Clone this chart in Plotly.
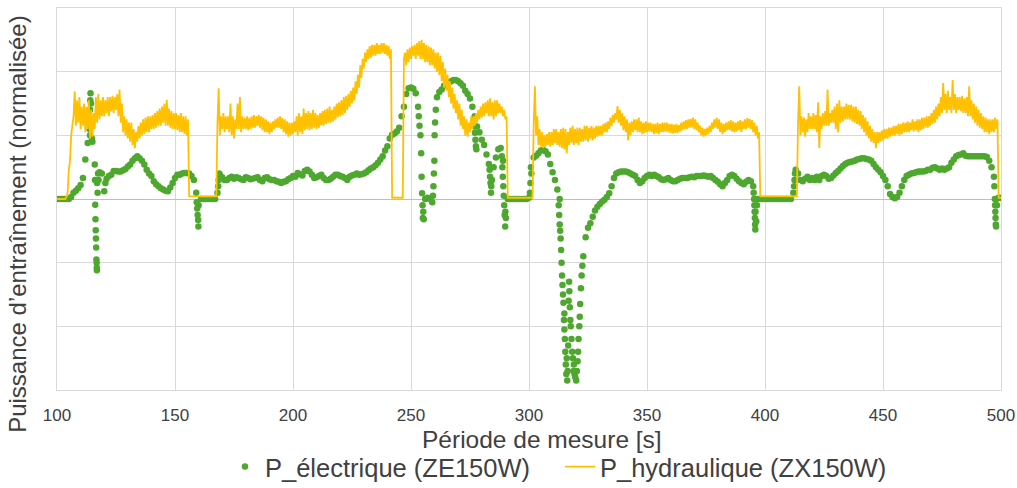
import plotly.graph_objects as go

# time axis (s), 1 s step
t_sec = list(range(100, 501))

# hydraulic power (normalised): lower edge of the noisy band, read at t = 100..500
hyd_low = [
    0, 0, 0, 0, 0.03, 0.45, 1.0, 1.3, 1.15, 1.2,
    1.1, 1.15, 1.05, 1.1, 0.95, 0.98, 1.1, 1.2, 1.25, 1.3,
    1.3, 1.35, 1.3, 1.38, 1.35, 1.4, 1.3, 1.2, 1.05, 1.0,
    0.95, 0.9, 0.85, 0.8, 0.9, 0.95, 1.0, 1.02, 1.05, 1.05,
    1.1, 1.1, 1.12, 1.15, 1.15, 1.2, 1.15, 1.15, 1.12, 1.1,
    1.1, 1.08, 1.05, 1.05, 1.02, 1.0, 0.04, 0.04, 0.04, 0.04,
    0.04, 0.04, 0.04, 0.04, 0.04, 0.04, 0.04, 0.04, 1.2, 1.0,
    1.1, 1.05, 1.1, 1.05, 1.0, 0.95, 1.1, 1.1, 1.05, 1.1,
    1.1, 1.08, 1.1, 1.12, 1.12, 1.15, 1.12, 1.08, 1.05, 1.05,
    1.02, 1.05, 1.1, 1.12, 1.12, 1.1, 1.05, 1.02, 0.98, 1.0,
    1.02, 1.05, 1.0, 1.05, 1.02, 1.08, 1.1, 1.08, 1.1, 1.12,
    1.1, 1.12, 1.15, 1.15, 1.18, 1.2, 1.2, 1.22, 1.25, 1.28,
    1.3, 1.32, 1.35, 1.4, 1.45, 1.5, 1.55, 1.65, 1.75, 1.9,
    2.05, 2.15, 2.2, 2.22, 2.25, 2.25, 2.28, 2.28, 2.3, 2.28,
    2.25, 2.2, 0.02, 0.02, 0.02, 0.02, 0.02, 2.2, 2.1, 2.15,
    2.2, 2.25, 2.2, 2.25, 2.2, 2.2, 2.15, 2.15, 2.1, 2.1,
    2.05, 2.0, 1.95, 1.85, 1.75, 1.7, 1.6, 1.5, 1.42, 1.35,
    1.25, 1.15, 1.1, 1.0, 0.98, 1.05, 1.1, 1.15, 1.2, 1.25,
    1.28, 1.3, 1.35, 1.3, 1.3, 1.25, 1.3, 1.35, 1.35, 1.3,
    1.25, 0.02, 0.02, 0.02, 0.02, 0.02, 0.02, 0.02, 0.02, 0.02,
    0.02, 0.02, 1.2, 1.0, 0.85, 0.82, 0.8, 0.82, 0.85, 0.82,
    0.85, 0.88, 0.85, 0.82, 0.8, 0.78, 0.72, 0.85, 0.88, 0.85,
    0.88, 0.85, 0.9, 0.9, 0.92, 0.9, 0.95, 0.92, 0.95, 0.98,
    1.0, 1.0, 1.05, 1.05, 1.1, 1.15, 1.2, 1.25, 1.2, 1.15,
    1.08, 1.05, 0.92, 1.0, 1.05, 1.08, 1.05, 1.05, 1.02, 1.04,
    1.05, 1.06, 1.05, 1.02, 1.04, 1.02, 1.05, 1.05, 1.06, 1.05,
    1.04, 1.03, 1.04, 1.04, 1.06, 1.08, 1.1, 1.1, 1.12, 1.12,
    1.1, 1.08, 1.05, 1.0, 0.98, 1.0, 1.02, 1.05, 1.1, 1.12,
    1.1, 1.05, 1.02, 1.05, 1.08, 1.08, 1.06, 1.05, 1.06, 1.08,
    1.05, 1.1, 1.1, 1.12, 1.1, 1.05, 1.0, 0.95, 0.04, 0.04,
    0.04, 0.04, 0.04, 0.04, 0.04, 0.04, 0.04, 0.04, 0.04, 0.04,
    0.04, 0.04, 0.04, 0.04, 1.2, 1.0, 1.05, 0.98, 1.05, 1.1,
    1.1, 1.1, 1.05, 0.8, 1.1, 1.15, 1.15, 1.15, 1.2, 1.2,
    1.1, 1.05, 1.2, 1.22, 1.25, 1.25, 1.25, 1.22, 1.2, 1.18,
    1.15, 1.1, 1.05, 1.0, 0.95, 0.9, 0.88, 0.8, 0.88, 0.9,
    0.92, 0.95, 0.95, 0.98, 1.0, 1.0, 1.02, 1.0, 1.02, 1.05,
    1.05, 1.05, 1.08, 1.06, 1.08, 1.05, 1.08, 1.1, 1.12, 1.12,
    1.15, 1.18, 1.2, 1.25, 1.3, 1.35, 1.4, 1.35, 1.4, 1.35,
    1.4, 1.35, 1.4, 1.38, 1.35, 1.35, 1.3, 1.3, 1.25, 1.2,
    1.15, 1.12, 1.1, 1.05, 1.05, 1.02, 1.05, 1.05, 1.1, 0.02,
    0.02,
]

# hydraulic power: upper edge of the noisy band, read at t + 0.5 s (t = 100..499)
hyd_high = [
    0, 0, 0, 0, 0.1, 0.6, 1.2, 1.69, 1.55, 1.6,
    1.45, 1.5, 1.45, 1.55, 1.4, 1.35, 1.6, 1.65, 1.55, 1.6,
    1.55, 1.6, 1.6, 1.62, 1.6, 1.65, 1.72, 1.5, 1.3, 1.25,
    1.2, 1.2, 1.1, 1.05, 1.15, 1.2, 1.25, 1.28, 1.3, 1.3,
    1.32, 1.35, 1.38, 1.42, 1.45, 1.5, 1.56, 1.42, 1.38, 1.35,
    1.35, 1.32, 1.35, 1.3, 1.3, 1.25, 0.04, 0.04, 0.04, 0.04,
    0.04, 0.04, 0.04, 0.04, 0.04, 0.04, 0.04, 0.04, 1.74, 1.3,
    1.35, 1.3, 1.3, 1.5, 1.3, 1.25, 1.5, 1.6, 1.3, 1.28,
    1.3, 1.28, 1.3, 1.32, 1.3, 1.32, 1.3, 1.28, 1.25, 1.22,
    1.2, 1.22, 1.25, 1.28, 1.3, 1.27, 1.25, 1.22, 1.2, 1.2,
    1.22, 1.3, 1.35, 1.3, 1.42, 1.35, 1.38, 1.35, 1.4, 1.35,
    1.32, 1.35, 1.38, 1.4, 1.42, 1.45, 1.4, 1.45, 1.5, 1.52,
    1.55, 1.6, 1.62, 1.65, 1.7, 1.75, 1.85, 1.95, 2.1, 2.2,
    2.3, 2.35, 2.4, 2.42, 2.42, 2.45, 2.42, 2.45, 2.45, 2.42,
    2.4, 2.35, 0.02, 0.02, 0.02, 0.02, 0.02, 2.3, 2.35, 2.38,
    2.4, 2.42, 2.45, 2.48, 2.5, 2.45, 2.42, 2.4, 2.38, 2.35,
    2.3, 2.3, 2.25, 2.15, 2.05, 1.95, 1.85, 1.75, 1.65, 1.55,
    1.5, 1.4, 1.3, 1.25, 1.2, 1.3, 1.3, 1.35, 1.4, 1.45,
    1.5, 1.52, 1.55, 1.58, 1.52, 1.55, 1.55, 1.5, 1.45, 1.4,
    1.3, 0.02, 0.02, 0.02, 0.02, 0.02, 0.02, 0.02, 0.02, 0.02,
    0.02, 0.02, 1.77, 1.3, 1.1, 1.05, 1.0, 1.02, 1.05, 1.05,
    1.1, 1.1, 1.05, 1.1, 1.12, 1.1, 1.05, 1.12, 1.15, 1.1,
    1.12, 1.12, 1.1, 1.15, 1.15, 1.12, 1.15, 1.12, 1.15, 1.15,
    1.15, 1.18, 1.2, 1.22, 1.28, 1.32, 1.35, 1.46, 1.4, 1.35,
    1.3, 1.25, 1.2, 1.22, 1.25, 1.25, 1.28, 1.22, 1.2, 1.22,
    1.2, 1.2, 1.18, 1.18, 1.2, 1.18, 1.2, 1.2, 1.2, 1.18,
    1.18, 1.17, 1.18, 1.16, 1.2, 1.22, 1.24, 1.25, 1.26, 1.28,
    1.25, 1.2, 1.15, 1.12, 1.1, 1.12, 1.15, 1.2, 1.25, 1.28,
    1.25, 1.2, 1.18, 1.2, 1.22, 1.24, 1.22, 1.2, 1.22, 1.24,
    1.22, 1.25, 1.27, 1.26, 1.24, 1.2, 1.15, 1.05, 0.04, 0.04,
    0.04, 0.04, 0.04, 0.04, 0.04, 0.04, 0.04, 0.04, 0.04, 0.04,
    0.04, 0.04, 0.04, 0.04, 1.77, 1.3, 1.28, 1.25, 1.35, 1.3,
    1.35, 1.32, 1.52, 1.3, 1.35, 1.38, 1.72, 1.35, 1.4, 1.45,
    1.5, 1.55, 1.45, 1.45, 1.5, 1.48, 1.48, 1.45, 1.45, 1.4,
    1.38, 1.32, 1.28, 1.22, 1.15, 1.1, 1.05, 1.05, 1.05, 1.08,
    1.1, 1.1, 1.12, 1.12, 1.15, 1.15, 1.18, 1.18, 1.2, 1.2,
    1.22, 1.2, 1.25, 1.22, 1.25, 1.25, 1.28, 1.28, 1.3, 1.3,
    1.35, 1.4, 1.45, 1.5, 1.6, 1.82, 1.65, 1.7, 1.6, 1.87,
    1.65, 1.6, 1.6, 1.62, 1.58, 1.6, 1.77, 1.55, 1.5, 1.45,
    1.4, 1.35, 1.3, 1.28, 1.25, 1.25, 1.25, 1.28, 1.25, 0.02,
]

# electric power (normalised), t = 100..500
p_electrique = [
    0, 0, 0, 0, 0, 0, 0.03, 0.1, 0.13, 0.17,
    0.22, 0.33, 0.62, 0.88, 1.0, 0.9, 0.54, 0.25, 0.42, 0.4,
    0.12, 0.32, 0.36, 0.38, 0.44, 0.44, 0.43, 0.43, 0.45, 0.47,
    0.51, 0.54, 0.6, 0.64, 0.67, 0.64, 0.6, 0.54, 0.46, 0.4,
    0.36, 0.28, 0.23, 0.2, 0.17, 0.15, 0.13, 0.12, 0.18, 0.25,
    0.33, 0.38, 0.38, 0.4, 0.41, 0.41, 0.4, 0.36, 0.3, 0.1,
    -0.1, 0, 0, 0, 0, 0, 0, 0, 0.1, 0.38,
    0.34, 0.3, 0.3, 0.33, 0.35, 0.32, 0.34, 0.33, 0.31, 0.3,
    0.34, 0.33, 0.31, 0.32, 0.33, 0.34, 0.3, 0.28, 0.33, 0.34,
    0.31, 0.3, 0.3, 0.28, 0.27, 0.25, 0.27, 0.28, 0.31, 0.33,
    0.36, 0.35, 0.41, 0.39, 0.37, 0.44, 0.46, 0.43, 0.38, 0.33,
    0.34, 0.36, 0.38, 0.33, 0.3, 0.3, 0.32, 0.35, 0.38, 0.38,
    0.36, 0.35, 0.33, 0.3, 0.35, 0.37, 0.38, 0.4, 0.38, 0.39,
    0.4, 0.42, 0.45, 0.48, 0.5, 0.53, 0.57, 0.62, 0.67, 0.76,
    0.83, 0.95, 1.01, 1.03, 1.06, 1.12, 1.3, 1.45, 1.65, 1.74,
    1.75, 1.73, 1.66, 1.45, 1.0, -0.3, 0.0, 0.02, 0.0, -0.05,
    1.0, 1.6, 1.68, 1.72, 1.78, 1.82, 1.83, 1.85, 1.87, 1.87,
    1.85, 1.82, 1.78, 1.7, 1.65, 1.58, 1.45, 1.3, 1.14, 1.05,
    0.93, 0.85, 0.7, 0.55, 0.2, 0.5, 0.65, 0.78, 0.8, 0.6,
    -0.2, 0, 0, 0, 0, 0, 0, 0, 0, 0,
    0.02, 0.4, 0.65, 0.68, 0.72, 0.76, 0.77, 0.75, 0.7, 0.55,
    0.42, 0.3, 0.15, 0.0, -1.2, -1.8, -2.5, -1.3, -2.2, -2.6,
    -2.85, -2.2, -1.4, -0.9, -0.6, -0.45, -0.38, -0.28, -0.18, -0.12,
    -0.08, -0.04, -0.01, 0.03, 0.09, 0.2, 0.33, 0.4, 0.42, 0.43,
    0.43, 0.43, 0.42, 0.4, 0.38, 0.36, 0.3, 0.25, 0.28, 0.33,
    0.36, 0.38, 0.36, 0.38, 0.36, 0.34, 0.31, 0.3, 0.31, 0.33,
    0.3, 0.28, 0.28, 0.3, 0.32, 0.33, 0.33, 0.33, 0.34, 0.35,
    0.34, 0.36, 0.36, 0.36, 0.37, 0.36, 0.35, 0.36, 0.33, 0.3,
    0.27, 0.23, 0.2, 0.25, 0.3, 0.36, 0.38, 0.36, 0.32, 0.28,
    0.25, 0.23, 0.27, 0.3, 0.28, 0.2, -0.2, 0.0, 0, 0,
    0, 0, 0, 0, 0, 0, 0, 0, 0, 0,
    0, 0, 0.1, 0.46, 0.4, 0.3, 0.28, 0.32, 0.35, 0.3,
    0.33, 0.3, 0.35, 0.3, 0.36, 0.38, 0.36, 0.32, 0.33, 0.37,
    0.41, 0.44, 0.48, 0.52, 0.55, 0.57, 0.58, 0.59, 0.6, 0.62,
    0.63, 0.64, 0.64, 0.63, 0.62, 0.6, 0.55, 0.5, 0.46, 0.42,
    0.36, 0.3, 0.2, 0.08, 0.03, 0.01, 0.03, 0.1, 0.2, 0.3,
    0.36, 0.38, 0.4, 0.41, 0.42, 0.43, 0.43, 0.43, 0.44, 0.46,
    0.46, 0.49, 0.5, 0.48, 0.46, 0.48, 0.46, 0.48, 0.5, 0.57,
    0.62, 0.67, 0.69, 0.7, 0.72, 0.68, 0.67, 0.67, 0.67, 0.67,
    0.67, 0.67, 0.67, 0.67, 0.66, 0.6, 0.5, 0.35, 0.0, 0.02,
    0.02,
]

# extra electric samples during fast transients (time s, value)
trans_t = [
    113.8, 113.9, 114.0, 114.1, 114.2, 114.4, 114.6, 114.8,
    116.1, 116.2, 116.3, 116.4, 116.5, 116.6, 116.7, 116.8, 116.85, 116.9,
    117.2, 117.4, 117.6, 120.5,
    159.2, 159.4, 159.6, 159.8, 159.9,
    168.3, 168.5, 168.7,
    253.3, 253.6, 254.3, 254.5, 254.7, 254.9, 255.2, 255.4,
    259.3, 259.5, 259.7, 259.9, 260.2, 260.5,
    276.9, 277.1, 277.3, 277.5, 277.7,
    283.3, 283.5, 283.7, 283.9, 284.3,
    288.5, 288.7, 288.9, 289.1, 289.3, 289.5, 289.7, 289.9, 290.2,
    300.4, 300.6, 300.8,
    312.6, 312.8, 313.0, 313.2, 313.4, 313.6, 313.8, 314.2, 314.4, 314.6,
    314.8, 315.0, 315.2, 315.4, 315.6, 315.8, 316.2, 316.4, 316.6, 316.8,
    317.1, 317.3, 317.5, 317.7, 318.3, 318.6, 318.9, 319.3, 319.6, 320.3,
    320.6, 320.8, 321.3, 321.5, 321.7, 322.3, 322.6,
    395.2, 395.4, 395.5, 395.6, 395.7, 395.8, 395.9, 396.3, 396.6,
    412.3, 412.5, 412.7,
    497.2, 497.4, 497.5, 497.6, 497.7, 497.8, 497.9, 498.3,
]
trans_v = [
    1.1, 1.25, 1.4, 1.55, 1.66, 1.5, 1.2, 0.95,
    0.3, -0.09, -0.32, -0.49, -0.62, -0.76, -0.95, -1.0, -1.08, -1.12,
    0.1, 0.4, 0.3, 0.25,
    -0.05, -0.15, -0.25, -0.33, -0.43,
    0.2, 0.3, 0.4,
    1.3, 1.15, 0.72, 0.35, 0.09, -0.1, -0.2, -0.32,
    0.05, 0.2, 0.4, 0.6, 1.2, 1.4,
    1.14, 1.04, 0.93, 0.83, 0.78,
    0.46, 0.35, 0.25, 0.1, 0.3,
    0.67, 0.5, 0.35, 0.2, 0.05, -0.1, -0.25, -0.43, -0.3,
    0.1, 0.25, 0.5,
    -0.1, -0.25, -0.4, -0.5, -0.62, -0.8, -1.0, -1.35, -1.5, -1.63,
    -1.9, -2.05, -2.2, -2.4, -2.6, -2.75, -2.85, -2.7, -2.3, -1.6,
    -1.45, -1.7, -1.9, -2.0, -2.4, -2.5, -2.7, -2.75, -2.8, -2.7,
    -2.55, -2.4, -2.0, -1.85, -1.65, -1.2, -1.05,
    0.1, 0.0, -0.1, -0.2, -0.3, -0.4, -0.48, -0.35, -0.1,
    0.2, 0.3, 0.4,
    0.2, 0.0, -0.1, -0.2, -0.3, -0.4, -0.43, -0.1,
]

x_ticks = [100, 150, 200, 250, 300, 350, 400, 450, 500]

# hydraulic samples in time order: band low edge at t, high edge at t + 0.5
hyd_t, hyd_v = [], []
for i, t in enumerate(t_sec):
    hyd_t.append(t)
    hyd_v.append(hyd_low[i])
    if i < len(hyd_high):
        hyd_t.append(t + 0.5)
        hyd_v.append(hyd_high[i])

GREEN = "#4ea72e"
YELLOW = "#ffc000"
GRID = "#d9d9d9"
FONT = "Liberation Sans, Arial, sans-serif"
TXT = "#404040"

fig = go.Figure()
fig.add_trace(go.Scatter(
    x=t_sec + trans_t, y=p_electrique + trans_v,
    mode="markers", name="P_électrique (ZE150W)", legend="legend",
    marker=dict(color=GREEN, size=6.5, line=dict(width=0)),
))
fig.add_trace(go.Scatter(
    x=hyd_t, y=hyd_v,
    mode="lines", name="P_hydraulique (ZX150W)", legend="legend2",
    line=dict(color=YELLOW, width=1.8),
))

legend_common = dict(orientation="h", xref="container", yref="container",
                     y=1 - 467 / 488, yanchor="middle", xanchor="left",
                     font=dict(size=25.5, color=TXT), itemwidth=30,
                     bgcolor="rgba(0,0,0,0)", borderwidth=0)

fig.update_layout(
    width=1017, height=488,
    margin=dict(l=57, r=16, t=8, b=98, autoexpand=False),
    paper_bgcolor="white", plot_bgcolor="white",
    font=dict(family=FONT, color=TXT),
    showlegend=True,
    legend=dict(legend_common, x=225 / 1017),
    legend2=dict(legend_common, x=560 / 1017),
    xaxis=dict(range=[100, 500], tickvals=x_ticks,
               ticktext=[str(v) for v in x_ticks], automargin=False,
               showgrid=True, gridcolor=GRID, gridwidth=1,
               zeroline=False, showline=True, linecolor=GRID, mirror=True,
               ticks="outside", ticklen=10, tickcolor="rgba(0,0,0,0)",
               tickfont=dict(size=17, color=TXT)),
    yaxis=dict(range=[-3, 3], dtick=1, showticklabels=False, automargin=False,
               showgrid=True, gridcolor=GRID, gridwidth=1,
               zeroline=True, zerolinecolor="#bfbfbf", zerolinewidth=1,
               showline=True, linecolor=GRID, mirror=True),
    annotations=[
        dict(text="Période de mesure [s]", xref="paper", yref="paper",
             x=0.514, y=-0.13, xanchor="center", yanchor="middle",
             showarrow=False, font=dict(size=24.5, color=TXT)),
        dict(text="Puissance d’entraînement (normalisée)", xref="paper", yref="paper",
             x=-0.0413, y=0.435, xanchor="center", yanchor="middle",
             textangle=-90, showarrow=False, font=dict(size=24, color=TXT)),
    ],
)

fig.write_html("out.html", config={"displayModeBar": False},
               post_script="document.body.style.margin='0px';")
